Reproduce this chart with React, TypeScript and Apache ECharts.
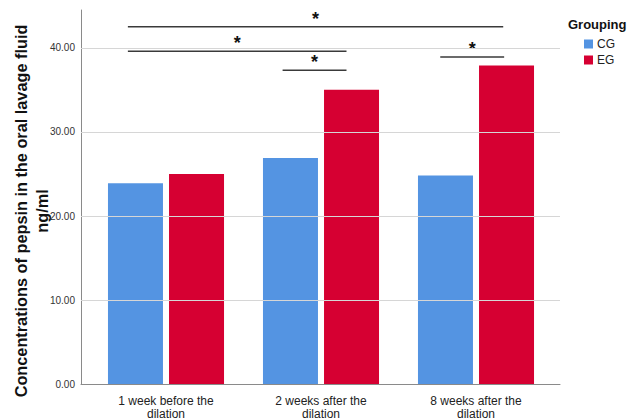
import React, { useEffect, useRef } from "react";
import * as echarts from "echarts";

const categories = [
  "1 week before the\ndilation",
  "2 weeks after the\ndilation",
  "8 weeks after the\ndilation",
];
const seriesNames = ["CG", "EG"];
const cgValues = [23.9, 26.9, 24.8];
const egValues = [25.0, 35.0, 37.9];
const gridLineValues = [10, 20, 30, 40];
const yMax = 44.5;
// significance brackets: [xStart, xEnd, y] in group units (0 = centre of first group)
const brackets = [
  [-0.245, 2.181, 42.5],
  [-0.245, 1.168, 39.6],
  [0.755, 1.168, 37.35],
  [1.774, 2.187, 38.9],
];
const bracketLabel = "*";

const FONT = "'Liberation Sans', Arial, sans-serif";
const BLUE = "#5494e2";
const RED = "#d60032";

export default function App() {
  const ref = useRef<HTMLDivElement>(null);
  useEffect(() => {
    if (!ref.current) return;
    const chart = echarts.init(ref.current, undefined, { renderer: "svg" });
    chart.setOption({
      animation: false,
      backgroundColor: "#ffffff",
      textStyle: { fontFamily: FONT },
      grid: [
        { left: 81, right: 71, top: 10, bottom: 35.7 },
        { left: 88.5, right: 77.5, top: 10, bottom: 35.7 },
      ],
      xAxis: [
        {
          gridIndex: 0,
          type: "value",
          min: -0.548,
          max: 2.548,
          axisLine: { show: true, onZero: false, lineStyle: { color: "#8a8a8a", width: 1 } },
          axisTick: { show: false },
          axisLabel: { show: false },
          splitLine: { show: false },
        },
        {
          gridIndex: 1,
          type: "category",
          data: categories,
          axisLine: { show: false },
          axisTick: { show: false },
          axisLabel: {
            color: "#222",
            fontSize: 12,
            lineHeight: 13,
            margin: 10,
            fontFamily: FONT,
          },
        },
      ],
      yAxis: [
        {
          gridIndex: 0,
          type: "value",
          min: 0,
          max: yMax,
          interval: 10,
          axisLine: { show: true, onZero: false, lineStyle: { color: "#8a8a8a", width: 1 } },
          axisTick: { show: false },
          splitLine: { show: false },
          axisLabel: {
            showMaxLabel: false,
            color: "#333",
            fontSize: 10,
            margin: 6,
            formatter: (v: number) => v.toFixed(2),
          },
        },
        {
          gridIndex: 1,
          type: "value",
          min: 0,
          max: yMax,
          show: false,
        },
      ],
      legend: {
        data: seriesNames,
        orient: "vertical",
        left: 584,
        top: 38,
        padding: 0,
        itemWidth: 9,
        itemHeight: 9,
        itemGap: 4,
        icon: "rect",
        textStyle: { fontSize: 12, color: "#222", padding: [0, 0, 0, -1] },
      },
      graphic: [
        {
          type: "text",
          x: 568,
          y: 24,
          style: {
            text: "Grouping",
            font: `bold 13px ${FONT}`,
            fill: "#111",
            verticalAlign: "middle",
            align: "left",
          },
        },
        {
          type: "text",
          x: 31,
          y: 211,
          rotation: Math.PI / 2,
          style: {
            text: "Concentrations of pepsin in the oral lavage fluid\nng/ml",
            font: `bold 16.3px ${FONT}`,
            fill: "#111",
            align: "center",
            verticalAlign: "middle",
            lineHeight: 21,
          },
        },
      ],
      series: [
        {
          type: "custom",
          xAxisIndex: 0,
          yAxisIndex: 0,
          z: 1,
          clip: false,
          silent: true,
          encode: { x: [0, 1], y: 2 },
          data: brackets,
          renderItem: (params: any, api: any) => {
            const p1 = api.coord([api.value(0), api.value(2)]);
            const p2 = api.coord([api.value(1), api.value(2)]);
            return {
              type: "group",
              children: [
                {
                  type: "line",
                  shape: { x1: p1[0], y1: p1[1], x2: p2[0], y2: p2[1] },
                  style: { stroke: "#3a3a3a", lineWidth: 1.5 },
                },
                {
                  type: "text",
                  x: (p1[0] + p2[0]) / 2,
                  y: p1[1] - 8,
                  style: {
                    text: bracketLabel,
                    font: `bold 18px ${FONT}`,
                    fill: "#111",
                    align: "center",
                    verticalAlign: "middle",
                  },
                },
              ],
            };
          },
          markLine: {
            silent: true,
            symbol: "none",
            label: { show: false },
            lineStyle: { color: "#d6d6d6", type: "solid", width: 1 },
            data: gridLineValues.map((v) => ({ yAxis: v })),
          },
        },
        {
          name: seriesNames[0],
          type: "bar",
          xAxisIndex: 1,
          yAxisIndex: 1,
          z: 2,
          barWidth: 55,
          barGap: "11%",
          itemStyle: { color: BLUE },
          data: cgValues,
        },
        {
          name: seriesNames[1],
          type: "bar",
          xAxisIndex: 1,
          yAxisIndex: 1,
          z: 2,
          barWidth: 55,
          barGap: "11%",
          itemStyle: { color: RED },
          data: egValues,
        },
      ],
    });
    return () => chart.dispose();
  }, []);
  return (
    <div
      ref={ref}
      style={{ position: "fixed", left: 0, top: 0, width: 631, height: 420 }}
    />
  );
}
